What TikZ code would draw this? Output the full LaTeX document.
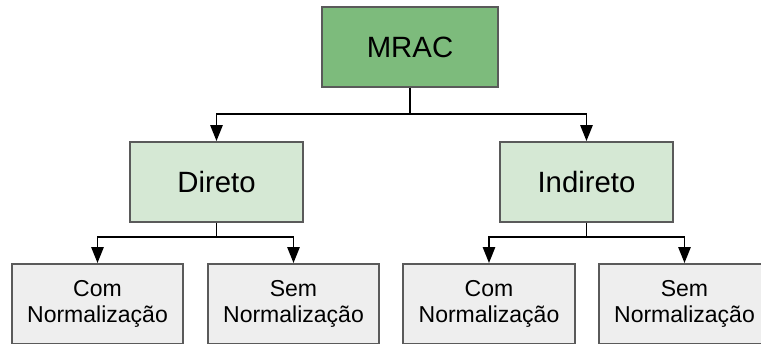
\documentclass[tikz,border=0pt]{standalone}
\usepackage{fontspec}
\setmainfont{Liberation Sans}
\usetikzlibrary{arrows.meta}
\definecolor{topgreen}{HTML}{7DBB7C}
\definecolor{midgreen}{HTML}{D5E8D4}
\definecolor{leafgray}{HTML}{EEEEEE}
\definecolor{edgegray}{HTML}{5A5A5A}
\tikzset{
    box/.style={draw=edgegray,line width=1.1pt,minimum height=1.6cm,align=center,inner sep=0pt},
    topbox/.style={box,fill=topgreen,minimum width=3.52cm,font=\fontsize{16.7}{20}\selectfont},
    midbox/.style={box,fill=midgreen,minimum width=3.46cm,font=\fontsize{16.7}{20}\selectfont},
    leafbox/.style={box,fill=leafgray,minimum width=3.43cm,font=\fontsize{13.1}{14.8}\selectfont},
    arr/.style={line width=1.1pt,-{Triangle[width=6.9pt,length=9pt]}}
}
\begin{document}
\begin{tikzpicture}[x=0.02cm,y=-0.02cm]
                \useasboundingbox (0,0) rectangle (761,343);
                \clip (0,0) rectangle (761,343);
                \node[topbox] (mrac) at (410,47) {MRAC};
                \node[midbox] (dir) at (216.5,182) {Direto};
                \node[midbox] (ind) at (586.5,182) {Indireto};
                \node[leafbox] (dircom) at (97.5,304) {Com\\Normalização};
                \node[leafbox] (dirsem) at (293.5,304) {Sem\\Normalização};
                \node[leafbox] (indcom) at (489,304) {Com\\Normalização};
                \node[leafbox] (indsem) at (684.5,304) {Sem\\Normalização};
                \coordinate (jtop) at (410,114);
                \coordinate (jdir) at (216.5,237);
                \coordinate (jind) at (586.5,237);
                \draw[arr] (mrac.south) -- (jtop) -| (dir.north);
                \draw[arr] (jtop) -| (ind.north);
                \draw[arr] (dir.south) -- (jdir) -| (dircom.north);
                \draw[arr] (jdir) -| (dirsem.north);
                \draw[arr] (ind.south) -- (jind) -| (indcom.north);
                \draw[arr] (jind) -| (indsem.north);
            \end{tikzpicture}
\end{document}
